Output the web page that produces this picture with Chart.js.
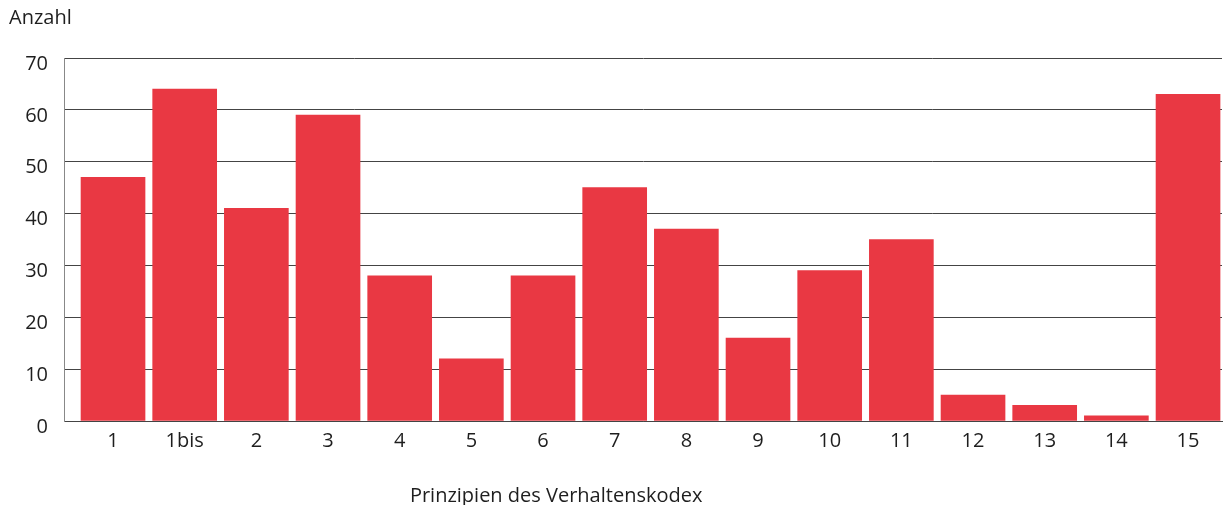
<!DOCTYPE html>
<html>
<head>
<meta charset="utf-8">
<script src="https://cdn.jsdelivr.net/npm/chart.js@4/dist/chart.umd.min.js"></script>
<style>
  html, body { margin: 0; padding: 0; background: #fff; }
  #wrap { width: 1232px; height: 505px; position: relative; }
</style>
</head>
<body>
<div id="wrap"><canvas id="c"></canvas></div>
<script>
// Anzahl der Nennungen je Prinzip des Verhaltenskodex
const categories = ['1', '1bis', '2', '3', '4', '5', '6', '7', '8', '9', '10', '11', '12', '13', '14', '15'];
const counts = [47, 64, 41, 59, 28, 12, 28, 45, 37, 16, 29, 35, 5, 3, 1, 63];
const yTicks = [0, 10, 20, 30, 40, 50, 60, 70];

const FONT = '"Open Sans", "Liberation Sans", Arial, sans-serif';
const TEXT = '#1e1e1e';

// Axis titles: "Anzahl" above the value axis, category title below the bars
const titles = {
  id: 'titles',
  afterDraw(chart) {
    const { ctx, chartArea } = chart;
    ctx.save();
    ctx.fillStyle = TEXT;
    ctx.font = '20px ' + FONT;
    ctx.textBaseline = 'alphabetic';
    ctx.textAlign = 'left';
    ctx.fillText('Anzahl', 9, 24);
    ctx.textAlign = 'center';
    ctx.fillText('Prinzipien des Verhaltenskodex', chartArea.left + chartArea.width * 0.425, 502);
    ctx.restore();
  }
};

new Chart(document.getElementById('c'), {
  type: 'bar',
  data: {
    datasets: [{
      data: counts.map((v, i) => ({ x: i, y: v })),
      backgroundColor: '#E93843',
      borderWidth: 0,
      barThickness: 64
    }]
  },
  options: {
    responsive: true,
    maintainAspectRatio: false,
    animation: false,
    layout: { padding: { left: 0, right: 10, top: 58, bottom: 0 } },
    plugins: { legend: { display: false }, tooltip: { enabled: false } },
    scales: {
      x: {
        type: 'linear',
        offset: false,
        min: -0.684,
        max: 15.474,
        afterBuildTicks(scale) { scale.ticks = categories.map((c, i) => ({ value: i })); },
        grid: { display: false },
        border: { display: true, color: '#444', width: 1 },
        ticks: {
          color: TEXT,
          font: { family: FONT, size: 20 },
          padding: 0,
          maxRotation: 0,
          autoSkip: false,
          callback: (v) => categories[v]
        },
        afterFit(scale) { scale.height = 84; }
      },
      y: {
        min: 0,
        max: 70,
        afterBuildTicks(scale) { scale.ticks = yTicks.map(v => ({ value: v })); },
        grid: { color: '#444', lineWidth: 1, drawTicks: false },
        border: { display: true, color: '#888', width: 1 },
        ticks: { color: TEXT, font: { family: FONT, size: 20 }, padding: 16, labelOffset: 6 },
        afterFit(scale) { scale.width = 64; }
      }
    }
  },
  plugins: [titles]
});
</script>
</body>
</html>
